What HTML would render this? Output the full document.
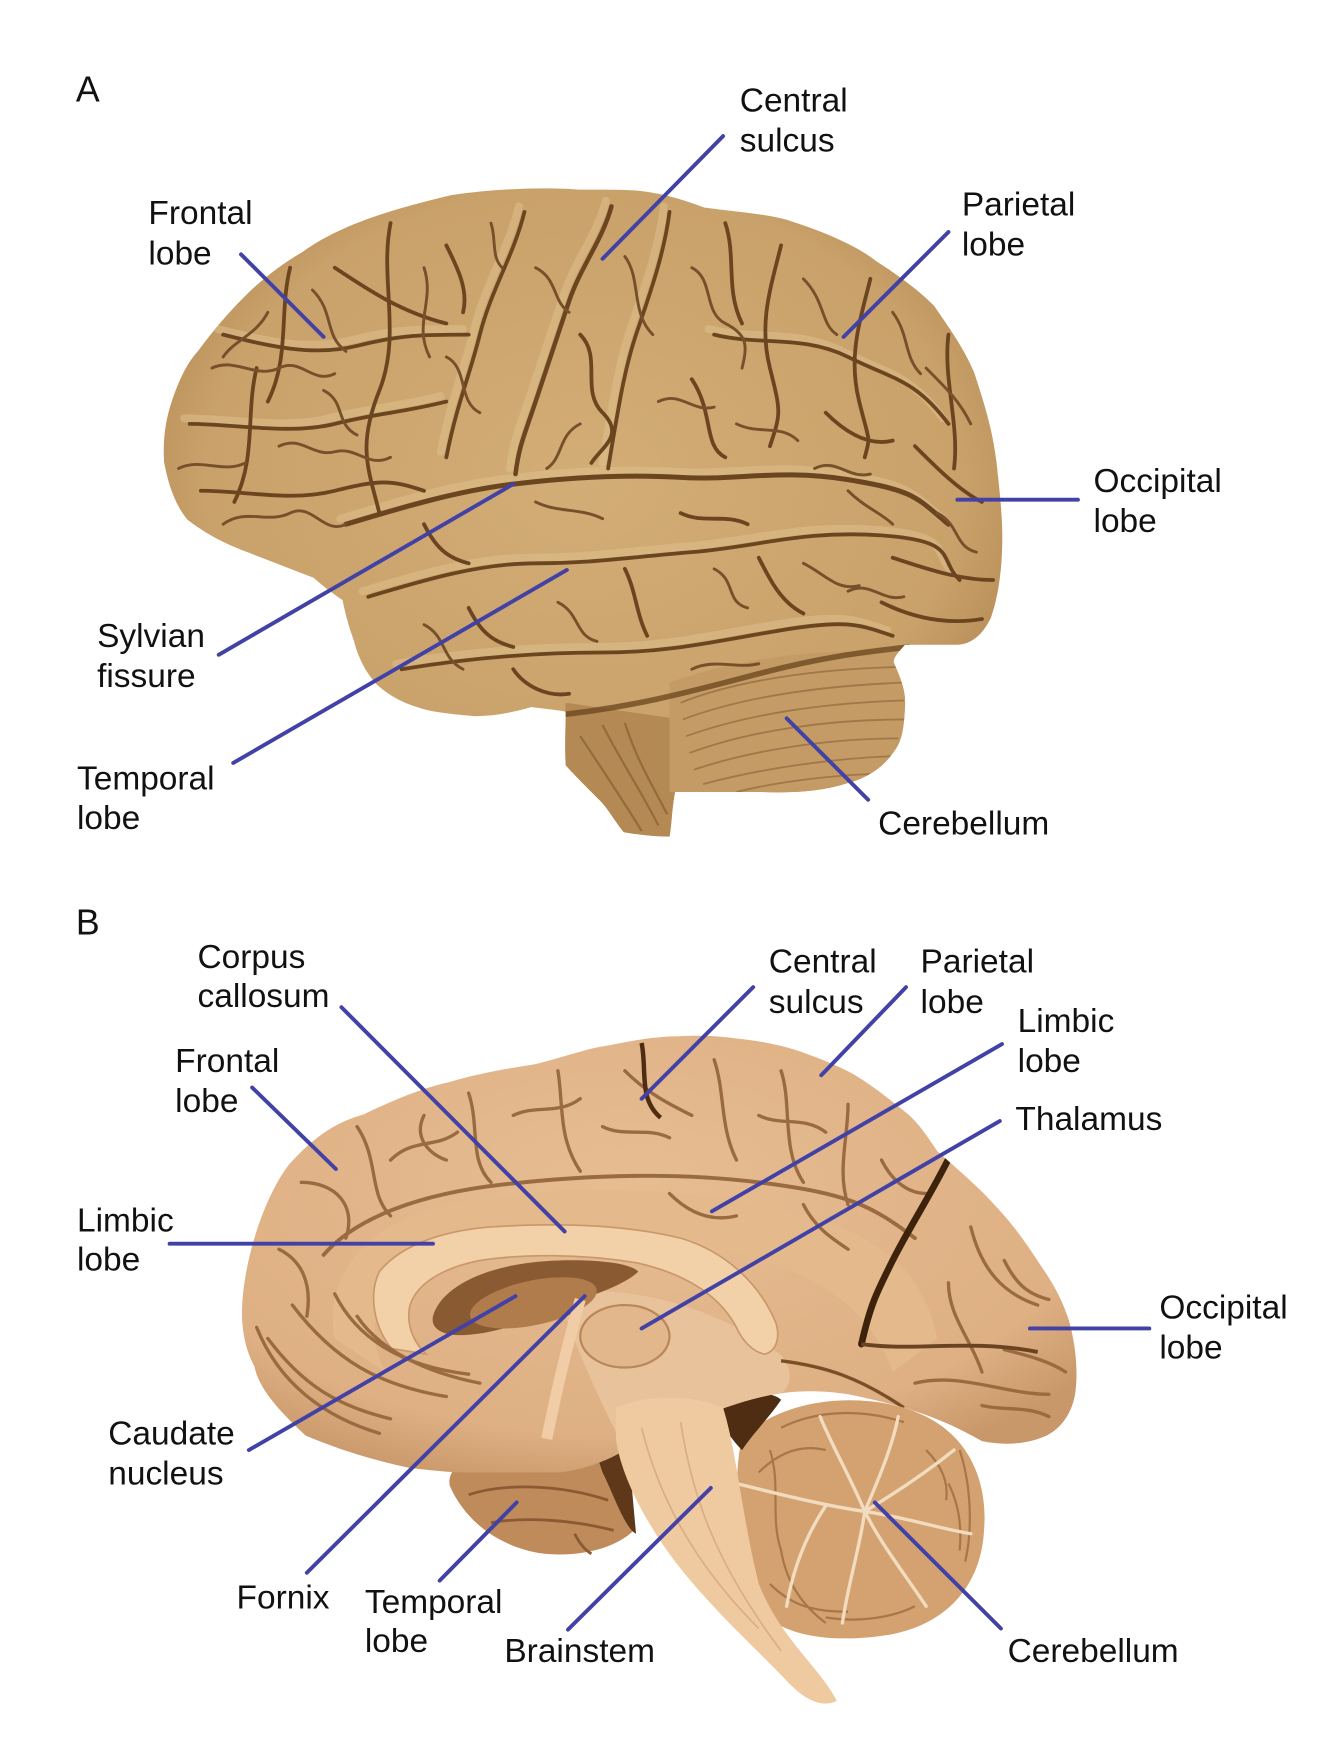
<!DOCTYPE html>
<html>
<head>
<meta charset="utf-8">
<style>
html,body{margin:0;padding:0;background:#fff;}
svg{display:block;}
text{font-family:"Liberation Sans",Arial,sans-serif;font-size:30px;fill:#111;}
</style>
</head>
<body>
<svg width="1339" height="1749" viewBox="0 0 1200 1568" preserveAspectRatio="none" xmlns="http://www.w3.org/2000/svg">
<defs>
  <radialGradient id="gA" cx="0.5" cy="0.45" r="0.6">
    <stop offset="0" stop-color="#d3ad76"/>
    <stop offset="0.75" stop-color="#c9a16a"/>
    <stop offset="1" stop-color="#b0864f"/>
  </radialGradient>
  <radialGradient id="gB" cx="0.45" cy="0.4" r="0.65">
    <stop offset="0" stop-color="#e6bd91"/>
    <stop offset="0.8" stop-color="#deb084"/>
    <stop offset="1" stop-color="#c9986a"/>
  </radialGradient>
  <clipPath id="cA">
    <path id="outA" d="M 271,226 C 300,205 340,190 404,175 C 450,168 500,168 518,170 C 550,170 570,170 580,172 C 600,175 615,180 631,186 C 660,190 690,192 708,198 C 745,210 770,222 785,234 C 810,250 825,262 837,274 C 855,300 865,315 873,334 C 885,370 890,390 893,414 C 897,450 899,470 898,494 C 897,520 893,540 888,554 C 880,570 870,578 857,578 L 811,578 C 805,585 800,590 801,594 C 808,610 812,620 811,634 C 810,655 808,665 801,674 C 790,690 775,698 760,702 C 735,710 710,711 682,710 C 650,710 625,710 605,710 C 602,725 602,740 600,750 C 585,750 570,748 559,746 C 550,735 545,725 538,718 C 525,705 515,695 507,686 C 506,670 507,650 507,638 C 495,636 485,635 476,634 C 455,640 440,642 425,642 C 400,640 385,638 374,634 C 355,628 345,620 338,614 C 325,600 320,585 317,574 C 312,560 309,548 307,538 C 295,530 288,524 281,518 C 260,510 240,502 219,494 C 195,485 180,475 168,466 C 155,450 150,430 147,414 C 146,395 148,380 152,366 C 160,340 168,325 178,314 C 192,295 205,280 219,266 C 235,250 255,235 271,226 Z"/>
  </clipPath>
  <clipPath id="cB">
    <path d="M 217,1184 C 215,1140 235,1075 259,1044 C 285,1015 305,1005 326,999 C 355,985 380,975 403,970 C 430,962 455,958 480,954 C 505,948 525,940 547,937 C 570,932 590,929 609,929 C 630,928 645,929 660,931 C 680,933 695,936 712,941 C 730,947 748,954 763,962 C 785,975 800,988 814,999 C 826,1010 833,1022 840,1032 C 860,1050 878,1065 892,1081 C 910,1100 922,1118 933,1135 C 945,1152 953,1168 958,1184 C 964,1205 966,1228 964,1246 C 962,1265 952,1280 938,1287 C 920,1295 900,1296 880,1292 C 850,1275 820,1262 760,1250 C 720,1244 690,1248 650,1262 C 610,1278 580,1292 560,1300 C 530,1318 500,1322 470,1322 C 430,1322 400,1320 367,1316 C 330,1308 300,1298 274,1287 C 250,1265 232,1245 228,1225 C 220,1210 218,1196 217,1184 Z"/>
  </clipPath>
</defs>

<!-- ================= BRAIN A ================= -->
<use href="#outA" fill="url(#gA)"/>
<g clip-path="url(#cA)">
  <!-- brainstem A -->
  <path d="M 507,630 L 610,645 L 610,712 L 602,752 L 556,748 L 536,720 L 505,688 Z" fill="#b48953"/>
  <g stroke="#8e6538" stroke-width="2" fill="none" opacity="0.8">
    <path d="M 520,660 C 540,690 560,720 575,745"/>
    <path d="M 540,650 C 555,680 575,710 590,740"/>
    <path d="M 560,648 C 570,680 585,705 598,730"/>
  </g>
  <!-- cerebellum A -->
  <path d="M 600,612 C 660,590 740,580 810,585 C 815,620 812,660 800,680 C 780,700 740,710 690,712 C 650,712 620,712 600,710 Z" fill="#c49b64"/>
  <g stroke="#9c7446" stroke-width="1.6" fill="none" opacity="0.9">
    <path d="M 610,630 C 660,610 730,600 805,598"/>
    <path d="M 612,645 C 665,625 735,615 808,612"/>
    <path d="M 615,660 C 670,640 740,630 810,628"/>
    <path d="M 618,675 C 672,655 742,645 810,645"/>
    <path d="M 622,690 C 675,672 745,662 805,662"/>
    <path d="M 630,703 C 685,688 750,680 798,678"/>
    <path d="M 660,710 C 700,700 750,695 780,694"/>
  </g>
  <path d="M 490,642 C 560,636 620,620 680,604 S 780,584 815,580" stroke="#6e4a22" stroke-width="5" fill="none" opacity="0.8"/>
  <!-- gyri highlights -->
  <g stroke="#dfc08c" stroke-width="7" fill="none" stroke-linecap="round" opacity="0.55" transform="translate(-5,-5)">
    <path d="M 310,470 C 360,455 410,440 460,434 S 560,425 610,428 S 700,420 760,430 S 820,445 850,470"/>
    <path d="M 330,535 C 380,520 430,505 480,505 S 560,500 620,495 S 720,475 790,480 S 840,500 860,520"/>
    <path d="M 548,185 C 540,215 520,240 510,270 S 490,330 480,360 S 465,400 462,425"/>
    <path d="M 600,190 C 595,230 580,270 570,300 S 555,360 545,420"/>
    <path d="M 470,190 C 460,230 440,260 430,300 S 410,360 400,410"/>
    <path d="M 200,300 C 240,310 280,320 320,310 S 380,300 420,300"/>
    <path d="M 170,380 C 210,380 260,390 300,380 S 360,370 400,360"/>
    <path d="M 640,300 C 680,310 720,300 760,320 S 820,340 850,380"/>
    <path d="M 360,600 C 420,590 480,585 540,585 S 640,575 700,565 S 770,560 800,570"/>
  </g>
  <!-- sulci -->
  <g stroke="#6a4520" stroke-width="3.4" fill="none" stroke-linecap="round" stroke-linejoin="round">
    <path d="M 310,470 C 360,455 410,440 460,434 S 560,425 610,428 S 700,420 760,430 S 820,445 850,470" stroke-width="4.5"/>
    <path d="M 330,535 C 380,520 430,505 480,505 S 560,500 620,495 S 720,475 790,480 S 840,500 860,520"/>
    <path d="M 360,600 C 420,590 480,585 540,585 S 640,575 700,565 S 770,560 800,570"/>
    <path d="M 548,185 C 540,215 520,240 510,270 S 490,330 480,360 S 465,400 462,425" stroke-width="4"/>
    <path d="M 470,190 C 460,230 440,260 430,300 S 410,360 400,410"/>
    <path d="M 600,190 C 595,230 580,270 570,300 S 555,360 545,420"/>
    <path d="M 300,240 C 330,260 360,280 400,290"/>
    <path d="M 200,300 C 240,310 280,320 320,310 S 380,300 420,300"/>
    <path d="M 170,380 C 210,380 260,390 300,380 S 360,370 400,360"/>
    <path d="M 180,440 C 220,440 260,450 300,440 S 350,430 380,440"/>
    <path d="M 640,300 C 680,310 720,300 760,320 S 820,340 850,380"/>
    <path d="M 700,220 C 690,260 680,290 690,330 S 700,370 690,400"/>
    <path d="M 780,250 C 770,290 760,320 770,360 S 780,390 775,410"/>
    <path d="M 820,400 C 840,420 860,440 880,450"/>
    <path d="M 800,500 C 830,510 860,520 890,520"/>
    <path d="M 790,540 C 820,555 850,560 880,555"/>
    <path d="M 260,240 C 250,280 260,320 240,360"/>
    <path d="M 350,200 C 340,250 360,300 340,350 S 330,420 340,460"/>
    <path d="M 230,330 C 220,370 230,410 210,450"/>
    <path d="M 520,300 C 540,320 520,350 540,370 S 540,400 530,415"/>
    <path d="M 620,340 C 640,370 630,400 650,410"/>
    <path d="M 420,545 C 430,565 440,575 460,580"/>
    <path d="M 560,510 C 570,530 570,550 580,570"/>
    <path d="M 680,500 C 690,520 700,540 720,550"/>
    <path d="M 400,220 C 410,240 420,260 415,280"/>
    <path d="M 650,200 C 660,230 650,260 665,290"/>
    <path d="M 740,370 C 760,390 780,400 800,395"/>
    <path d="M 610,460 C 630,470 650,460 670,470"/>
    <path d="M 380,470 C 390,490 400,500 420,505"/>
    <path d="M 850,300 C 845,340 860,380 855,420"/>
    <path d="M 460,600 C 470,615 490,625 510,622"/>
  </g>
  <!-- extra fine sulci for texture -->
  <g stroke="#75502a" stroke-width="2.6" fill="none" stroke-linecap="round" stroke-linejoin="round">
    <path d="M 190,330 C 210,320 230,340 250,330 S 280,345 300,335"/>
    <path d="M 160,420 C 180,410 200,425 220,415"/>
    <path d="M 200,470 C 220,455 240,470 260,460 S 290,480 310,470"/>
    <path d="M 280,260 C 300,280 290,300 310,315"/>
    <path d="M 250,400 C 270,390 280,410 300,405 S 330,420 350,410"/>
    <path d="M 380,240 C 390,270 370,290 385,320"/>
    <path d="M 290,350 C 310,360 300,380 320,390"/>
    <path d="M 400,320 C 420,330 410,360 430,370"/>
    <path d="M 240,280 C 230,300 210,305 200,320"/>
    <path d="M 480,240 C 500,250 495,270 510,280"/>
    <path d="M 560,230 C 575,250 565,280 585,300"/>
    <path d="M 620,240 C 640,250 630,280 650,290 S 670,310 665,330"/>
    <path d="M 520,380 C 500,390 505,410 490,420"/>
    <path d="M 590,360 C 610,350 620,370 640,365"/>
    <path d="M 660,380 C 680,390 700,380 715,395"/>
    <path d="M 720,250 C 740,270 735,290 750,300"/>
    <path d="M 800,280 C 815,300 810,320 825,335"/>
    <path d="M 730,420 C 750,410 760,430 780,425"/>
    <path d="M 840,460 C 860,470 855,490 875,495"/>
    <path d="M 760,530 C 780,520 790,540 810,535"/>
    <path d="M 830,330 C 850,350 860,360 870,380"/>
    <path d="M 480,450 C 500,460 520,455 540,465"/>
    <path d="M 640,510 C 660,520 650,540 670,545"/>
    <path d="M 720,505 C 740,515 750,530 770,525"/>
    <path d="M 500,540 C 520,550 515,570 535,575"/>
    <path d="M 620,600 C 640,590 660,600 680,595"/>
    <path d="M 380,560 C 400,570 395,590 415,600"/>
    <path d="M 440,200 C 445,215 440,230 450,240"/>
    <path d="M 760,440 C 775,455 790,460 800,470"/>
  </g>
</g>

<!-- ================= BRAIN B ================= -->
<!-- cerebellum B -->
<path d="M 665,1290 C 700,1252 780,1245 830,1270 C 870,1290 885,1330 882,1370 C 880,1420 850,1455 800,1465 C 760,1472 720,1470 695,1455 C 670,1430 660,1390 660,1350 C 660,1320 662,1300 665,1290 Z" fill="#d4a271"/>
<g stroke="#a9764a" stroke-width="2" fill="none">
  <path d="M 690,1300 C 700,1330 690,1360 700,1390 C 705,1420 720,1440 740,1455"/>
  <path d="M 860,1300 C 870,1330 872,1370 865,1400"/>
  <path d="M 820,1440 C 800,1450 770,1455 740,1450"/>
  <path d="M 700,1280 C 730,1265 770,1262 810,1275"/>
  <path d="M 680,1320 C 700,1300 720,1295 740,1300"/>
  <path d="M 690,1420 C 710,1440 730,1445 760,1445"/>
  <path d="M 850,1330 C 860,1350 862,1370 860,1390"/>
  <path d="M 830,1300 C 845,1315 850,1330 848,1345"/>
</g>
<g stroke="#f2dcbf" stroke-width="3" fill="none" stroke-linecap="round">
  <path d="M 660,1330 C 700,1340 740,1350 775,1355"/>
  <path d="M 775,1355 C 800,1340 830,1320 855,1300"/>
  <path d="M 775,1355 C 810,1360 840,1370 870,1375"/>
  <path d="M 775,1355 C 790,1385 810,1410 830,1440"/>
  <path d="M 775,1355 C 770,1390 760,1420 755,1455"/>
  <path d="M 775,1355 C 760,1320 745,1295 735,1270"/>
  <path d="M 775,1355 C 790,1320 800,1295 805,1270"/>
  <path d="M 740,1350 C 720,1380 710,1410 705,1440"/>
</g>
<!-- temporal lobe B -->
<path d="M 403,1332 C 400,1310 430,1300 470,1302 C 520,1298 555,1310 565,1335 L 568,1372 C 552,1388 520,1396 488,1393 C 450,1388 418,1366 403,1332 Z" fill="#c08b5b"/>
<g stroke="#8a5a33" stroke-width="2.5" fill="none">
  <path d="M 420,1340 C 450,1330 500,1330 545,1345"/>
  <path d="M 440,1365 C 470,1360 510,1362 550,1372"/>
  <path d="M 515,1375 C 520,1385 525,1390 530,1393"/>
</g>
<!-- dark gaps -->
<path d="M 530,1290 C 545,1280 560,1290 565,1320 L 570,1375 C 560,1370 550,1340 540,1320 Z" fill="#5e3818"/>
<path d="M 640,1262 C 660,1250 690,1245 700,1255 C 690,1270 675,1285 665,1300 C 655,1290 645,1275 640,1262 Z" fill="#4e2d12"/>
<!-- cerebrum B -->
<g clip-path="url(#cB)">
  <rect x="200" y="900" width="800" height="420" fill="url(#gB)"/>
  <path d="M 300,1200 C 290,1150 320,1100 400,1080 C 500,1060 620,1062 720,1090 C 800,1110 830,1150 840,1200 L 800,1230 C 780,1170 720,1130 620,1115 C 520,1105 420,1110 370,1140 C 330,1165 330,1200 345,1230 Z" fill="#e4b98c"/>
  <path d="M 500,1160 C 560,1150 640,1170 700,1215 C 720,1240 700,1260 660,1265 C 620,1270 580,1290 560,1300 C 540,1260 520,1220 500,1160 Z" fill="#e8c29a"/>
  <path d="M 351,1209 C 335,1190 330,1160 340,1140 C 360,1115 400,1103 440,1100 C 500,1096 560,1098 610,1110 C 650,1122 680,1150 695,1185 C 700,1200 695,1212 685,1214 C 675,1212 665,1202 660,1190 C 645,1162 615,1142 570,1132 C 520,1124 470,1124 430,1130 C 395,1137 372,1152 367,1172 C 364,1190 372,1205 382,1214 Z" fill="#f2d0a8" stroke="#c9976a" stroke-width="1.5"/>
  <path d="M 388,1180 C 396,1152 440,1132 500,1130 C 540,1129 565,1133 572,1140 C 560,1152 530,1162 500,1172 C 470,1186 440,1197 410,1197 C 394,1196 386,1190 388,1180 Z" fill="#8a5a33"/>
  <ellipse cx="478" cy="1168" rx="58" ry="20" fill="#b07c4c" transform="rotate(-12 478 1168)"/>
  <ellipse cx="560" cy="1198" rx="40" ry="28" fill="#e2b78b" stroke="#b9875a" stroke-width="2"/>
  <path d="M 520,1165 C 510,1200 500,1240 490,1290" stroke="#f0cda6" stroke-width="10" fill="none"/>
  <g stroke="#9a6a40" stroke-width="3" fill="none" stroke-linecap="round" stroke-linejoin="round">
    <path d="M 290,1125 C 320,1090 380,1070 450,1062 S 600,1050 680,1060 S 780,1080 820,1110" stroke-width="3.5"/>
    <path d="M 320,1010 C 340,1040 330,1070 350,1090"/>
    <path d="M 420,980 C 430,1010 420,1040 440,1060"/>
    <path d="M 500,960 C 505,990 500,1020 520,1050"/>
    <path d="M 640,950 C 650,980 645,1010 660,1040"/>
    <path d="M 700,960 C 710,990 700,1030 720,1060"/>
    <path d="M 760,990 C 760,1020 750,1050 760,1080"/>
    <path d="M 270,1060 C 300,1060 320,1080 310,1110"/>
    <path d="M 250,1120 C 270,1130 280,1150 275,1180"/>
    <path d="M 240,1200 C 270,1240 300,1260 350,1272"/>
    <path d="M 262,1170 C 300,1220 340,1242 400,1252"/>
    <path d="M 300,1160 C 320,1200 360,1225 420,1232"/>
    <path d="M 230,1190 C 250,1240 290,1270 340,1285"/>
    <path d="M 320,1180 C 340,1210 380,1230 430,1240"/>
    <path d="M 380,1000 C 370,1020 385,1035 400,1040"/>
    <path d="M 560,960 C 580,980 600,990 620,1000"/>
    <path d="M 350,1040 C 370,1020 390,1030 410,1015"/>
    <path d="M 460,1000 C 480,990 500,1000 520,985"/>
    <path d="M 540,1010 C 560,1020 580,1010 600,1020"/>
    <path d="M 680,1000 C 700,1010 720,1000 740,1015"/>
    <path d="M 790,1040 C 800,1060 815,1070 830,1070"/>
    <path d="M 870,1100 C 880,1140 900,1160 930,1170"/>
    <path d="M 820,1240 C 860,1230 900,1250 940,1250"/>
    <path d="M 850,1150 C 850,1180 870,1200 880,1230"/>
    <path d="M 900,1210 C 920,1215 940,1220 955,1230"/>
    <path d="M 880,1260 C 900,1265 920,1260 940,1270"/>
    <path d="M 900,1130 C 910,1150 920,1160 940,1165"/>
    <path d="M 600,1070 C 620,1090 640,1095 660,1090"/>
    <path d="M 720,1080 C 730,1100 745,1110 760,1120"/>
  </g>
  <path d="M 575,935 C 580,960 572,985 592,1002" stroke="#4e2d12" stroke-width="4" fill="none"/>
  <path d="M 852,1035 C 835,1070 815,1100 800,1130 S 780,1170 772,1205" stroke="#3e230c" stroke-width="6" fill="none" stroke-linecap="round"/>
  <path d="M 772,1205 C 820,1212 870,1200 930,1212" stroke="#6a4320" stroke-width="3.5" fill="none"/>
  <path d="M 700,1220 C 740,1225 770,1235 810,1262" stroke="#7a4f28" stroke-width="3" fill="none"/>
</g>
<!-- brainstem B -->
<path d="M 552,1262 C 580,1250 620,1250 648,1262 C 660,1300 665,1360 680,1420 C 700,1470 735,1495 750,1525 C 735,1532 720,1522 708,1510 C 680,1480 640,1445 605,1400 C 575,1360 556,1320 552,1290 Z" fill="#efc9a0"/>
<g stroke="#d9ae82" stroke-width="1.5" fill="none">
  <path d="M 575,1280 C 590,1340 620,1400 680,1460"/>
  <path d="M 610,1275 C 620,1340 640,1400 700,1480"/>
</g>

<!-- ================= CONNECTOR LINES ================= -->
<g stroke="#4141a6" stroke-width="3.5" stroke-linecap="round" fill="none">
  <line x1="648" y1="122" x2="540" y2="232"/>
  <line x1="216" y1="228" x2="290" y2="302"/>
  <line x1="850" y1="208" x2="756" y2="302"/>
  <line x1="858" y1="448" x2="966" y2="448"/>
  <line x1="196" y1="587" x2="460" y2="434"/>
  <line x1="209" y1="684" x2="508" y2="511"/>
  <line x1="778" y1="717" x2="705" y2="644"/>

  <line x1="306" y1="903" x2="506" y2="1104"/>
  <line x1="675" y1="885" x2="575" y2="985"/>
  <line x1="812" y1="885" x2="736" y2="964"/>
  <line x1="898" y1="936" x2="638" y2="1086"/>
  <line x1="226" y1="975" x2="301" y2="1048"/>
  <line x1="896" y1="1005" x2="575" y2="1191"/>
  <line x1="152" y1="1115" x2="388" y2="1115"/>
  <line x1="1030" y1="1191" x2="923" y2="1191"/>
  <line x1="223" y1="1300" x2="462" y2="1162"/>
  <line x1="275" y1="1410" x2="524" y2="1162"/>
  <line x1="394" y1="1417" x2="463" y2="1347"/>
  <line x1="509" y1="1461" x2="637" y2="1334"/>
  <line x1="897" y1="1460" x2="784" y2="1347"/>
</g>

<!-- ================= LABELS ================= -->
<text x="68" y="91" style="font-size:32px">A</text>
<text x="663" y="100">Central</text>
<text x="663" y="136">sulcus</text>
<text x="133" y="201">Frontal</text>
<text x="133" y="237">lobe</text>
<text x="862" y="193">Parietal</text>
<text x="862" y="229">lobe</text>
<text x="980" y="441">Occipital</text>
<text x="980" y="477">lobe</text>
<text x="87" y="580">Sylvian</text>
<text x="87" y="616">fissure</text>
<text x="69" y="708">Temporal</text>
<text x="69" y="743">lobe</text>
<text x="787" y="748">Cerebellum</text>

<text x="68" y="838" style="font-size:32px">B</text>
<text x="177" y="868">Corpus</text>
<text x="177" y="903">callosum</text>
<text x="689" y="872">Central</text>
<text x="689" y="908">sulcus</text>
<text x="825" y="872">Parietal</text>
<text x="825" y="908">lobe</text>
<text x="912" y="925">Limbic</text>
<text x="912" y="961">lobe</text>
<text x="157" y="961">Frontal</text>
<text x="157" y="997">lobe</text>
<text x="910" y="1013">Thalamus</text>
<text x="69" y="1104">Limbic</text>
<text x="69" y="1139">lobe</text>
<text x="1039" y="1182">Occipital</text>
<text x="1039" y="1218">lobe</text>
<text x="97" y="1295">Caudate</text>
<text x="97" y="1331">nucleus</text>
<text x="212" y="1442">Fornix</text>
<text x="327" y="1446">Temporal</text>
<text x="327" y="1481">lobe</text>
<text x="452" y="1490">Brainstem</text>
<text x="903" y="1490">Cerebellum</text>
</svg>
</body>
</html>
